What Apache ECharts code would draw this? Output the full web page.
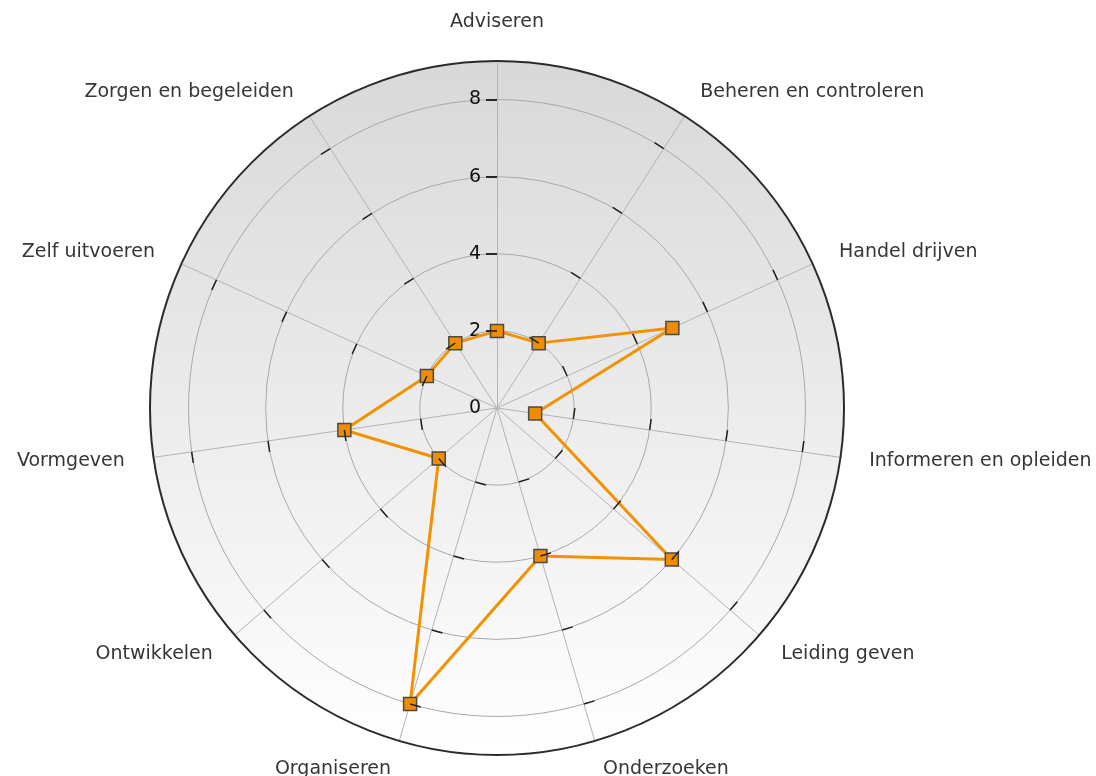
<!DOCTYPE html>
<html><head><meta charset="utf-8">
<script src="https://cdn.jsdelivr.net/npm/echarts@6/dist/echarts.min.js"></script>
<style>html,body{margin:0;padding:0;background:#fff}#c{width:1096px;height:776px}</style>
</head><body><div id="c"></div>
<script>
const categories = ['Adviseren','Beheren en controleren','Handel drijven','Informeren en opleiden','Leiding geven','Onderzoeken','Organiseren','Ontwikkelen','Vormgeven','Zelf uitvoeren','Zorgen en begeleiden'];
const values = [2,2,5,1,6,4,8,2,4,2,2];
const radiusTicks = [0,2,4,6,8];
const axisMax = 9;

const C = [497, 408], R = 347;
const FONT = 'DejaVu Sans';
// radar lays indicators out counter-clockwise; reorder so they run clockwise from the top
const order = categories.map((_, i) => (categories.length - i) % categories.length);
const tickMax = radiusTicks[radiusTicks.length - 1];
const tickStep = radiusTicks[1] - radiusTicks[0];
const markTicks = radiusTicks.filter(v => v > 0);

const chart = echarts.init(document.getElementById('c'), null, {renderer: 'canvas'});
chart.setOption({
  animation: false,
  polar: { center: C, radius: R },
  angleAxis: {
    type: 'value', min: 0, max: 360, startAngle: 90,
    axisLine: { lineStyle: { color: '#2b2b2b', width: 2 } },
    axisTick: { show: false }, axisLabel: { show: false }, splitLine: { show: false }, z: 2
  },
  radiusAxis: {
    type: 'value', min: 0, max: axisMax, interval: tickStep,
    axisLine: { show: false },
    axisTick: { show: true, length: 11, customValues: markTicks, lineStyle: { color: '#111', width: 1.5 } },
    axisLabel: { showMaxLabel: false, margin: 16, fontSize: 19, color: '#111', fontFamily: FONT },
    splitLine: { show: true, lineStyle: { color: '#a9a9a9', width: 1 } },
    z: 1
  },
  radar: [
    {
      center: C, radius: R, startAngle: 90, shape: 'circle', splitNumber: 1,
      indicator: order.map(i => ({ name: categories[i], max: axisMax })),
      axisName: { color: '#363636', fontSize: 19, fontFamily: FONT },
      axisNameGap: 29,
      axisLine: { lineStyle: { color: '#b4b4b4', width: 1 } },
      splitLine: { show: false },
      splitArea: { show: true, areaStyle: { color: [{
        type: 'linear', x: 0, y: 0, x2: 0, y2: 1,
        colorStops: [{ offset: 0, color: '#d8d8d8' }, { offset: 1, color: '#ffffff' }]
      }] } },
      z: -1
    },
    {
      center: C, radius: R * tickMax / axisMax, startAngle: 90, shape: 'circle',
      splitNumber: radiusTicks.length - 1,
      indicator: order.map(i => ({ name: categories[i], max: tickMax })),
      axisName: { show: false },
      axisLine: { show: false },
      splitLine: { show: false },
      splitArea: { show: false },
      axisTick: { show: true, length: 11, customValues: markTicks, lineStyle: { color: '#222', width: 1.5 } },
      z: 3
    }
  ],
  series: [{
    type: 'radar', radarIndex: 0, symbol: 'rect', symbolSize: 13,
    lineStyle: { color: '#f39200', width: 3 },
    itemStyle: { color: '#ef8c00', borderColor: '#4a4a4a', borderWidth: 1.5 },
    data: [{ value: order.map(i => values[i]) }]
  }]
});
</script>
</body></html>
